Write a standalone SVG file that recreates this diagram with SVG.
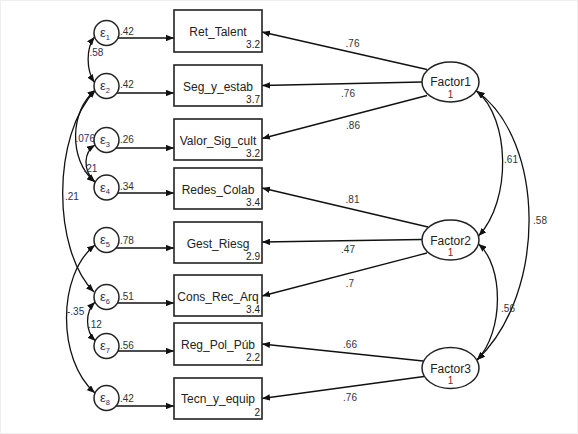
<svg xmlns="http://www.w3.org/2000/svg" width="578" height="434" viewBox="0 0 578 434">
<defs>
<marker id="ah" viewBox="0 0 10 8" refX="10" refY="4" markerWidth="8" markerHeight="6.4" markerUnits="userSpaceOnUse" orient="auto-start-reverse"><path d="M0,0 L10,4 L0,8 z" fill="#111"/></marker>
<style>
.box{fill:#fff;stroke:#222;stroke-width:1.6}
.err{fill:#fff;stroke:#222;stroke-width:1.5}
.lat{fill:#fff;stroke:#222;stroke-width:1.5}
.name{font-family:"Liberation Sans",Arial,sans-serif;font-size:12px;fill:#222;text-anchor:middle}
.mean{font-family:"Liberation Sans",Arial,sans-serif;font-size:10px;fill:#222;text-anchor:end}
.eps{font-family:"Liberation Sans","DejaVu Sans",sans-serif;font-size:13px;fill:#2d2d5a}
.sub{font-size:7.5px}
.var{font-family:"Liberation Sans",Arial,sans-serif;font-size:10px;fill:#8b1a1a;text-anchor:middle}
.lbl{font-family:"Liberation Sans",Arial,sans-serif;font-size:10px;fill:#333}
.mid{text-anchor:middle}
.cov{font-family:"Liberation Sans",Arial,sans-serif;font-size:10px;fill:#2d2d5a}
.ln{fill:none;stroke:#111;stroke-width:1.3}
.one{marker-end:url(#ah)}
.two{marker-start:url(#ah);marker-end:url(#ah)}
</style>
</defs>
<rect x="0.5" y="0.5" width="577" height="433" fill="#fff" stroke="#efefef"/>

<g id="connectors">
<line class="ln one" x1="118" y1="38" x2="174" y2="38"/>
<line class="ln one" x1="117" y1="93" x2="174" y2="93"/>
<line class="ln one" x1="116" y1="148" x2="174" y2="148"/>
<line class="ln one" x1="117.7" y1="193" x2="174" y2="193"/>
<line class="ln one" x1="116" y1="248" x2="174" y2="248"/>
<line class="ln one" x1="117.5" y1="303" x2="174" y2="303"/>
<line class="ln one" x1="118" y1="351" x2="174" y2="351"/>
<line class="ln one" x1="116" y1="406" x2="174" y2="406"/>

<line class="ln one" x1="427" y1="69.5" x2="262" y2="32"/>
<line class="ln one" x1="422" y1="82" x2="262" y2="85.5"/>
<line class="ln one" x1="427" y1="95.5" x2="262" y2="138.5"/>
<line class="ln one" x1="428" y1="227" x2="262" y2="188"/>
<line class="ln one" x1="422" y1="239.5" x2="262" y2="242"/>
<line class="ln one" x1="427" y1="253" x2="262" y2="296"/>
<line class="ln one" x1="423" y1="361" x2="262" y2="344"/>
<line class="ln one" x1="424" y1="376.5" x2="262" y2="398.5"/>

<path class="ln two" d="M476.5,91 C510,118 512,200 478.5,236"/>
<path class="ln two" d="M476.5,91 C545,140 548,292 477,360"/>
<path class="ln two" d="M478.5,244 C504,266 504,332 477,360"/>

<path class="ln two" d="M94.5,37 C86,48 86,70 94.5,82.5"/>
<path class="ln two" d="M95.5,90 C70,110 68,160 95,182"/>
<path class="ln two" d="M95,145 C84,152 82,170 95,182"/>
<path class="ln two" d="M95.5,90 C52,135 52,250 94,292"/>
<path class="ln two" d="M95,245 C57,275 57,360 95,393"/>
<path class="ln two" d="M95,302 C85,312 85,331 95.5,341"/>

<text class="lbl" x="120" y="35">.42</text>
<text class="lbl" x="120" y="88">.42</text>
<text class="lbl" x="120" y="143">.26</text>
<text class="lbl" x="120" y="190">.34</text>
<text class="lbl" x="120" y="244">.78</text>
<text class="lbl" x="120" y="300">.51</text>
<text class="lbl" x="120" y="349">.56</text>
<text class="lbl" x="120" y="402">.42</text>

<text class="lbl mid" x="352.5" y="47">.76</text>
<text class="lbl mid" x="348" y="96.5">.76</text>
<text class="lbl mid" x="353" y="129">.86</text>
<text class="lbl mid" x="352.5" y="203">.81</text>
<text class="lbl mid" x="348" y="253">.47</text>
<text class="lbl mid" x="350" y="286.5">.7</text>
<text class="lbl mid" x="350" y="348">.66</text>
<text class="lbl mid" x="350" y="400.5">.76</text>

<text class="lbl mid" x="511" y="163">.61</text>
<text class="lbl mid" x="540" y="224">.58</text>
<text class="lbl mid" x="508" y="312">.56</text>

<text class="cov" x="89.5" y="56">.58</text>
<text class="cov" x="75.5" y="142">.076</text>
<text class="cov" x="83.5" y="172">.21</text>
<text class="cov" x="65" y="200">.21</text>
<text class="cov" x="67" y="315">-.35</text>
<text class="cov" x="88" y="328">.12</text>
</g>

<g id="e1"><circle class="err" cx="106.5" cy="33" r="12.5"/><text class="eps" x="100" y="37">ε<tspan class="sub" dy="2.5">1</tspan></text></g>
<g id="e2"><circle class="err" cx="106.5" cy="86" r="12.5"/><text class="eps" x="100" y="90">ε<tspan class="sub" dy="2.5">2</tspan></text></g>
<g id="e3"><circle class="err" cx="106.5" cy="140" r="12.5"/><text class="eps" x="100" y="144">ε<tspan class="sub" dy="2.5">3</tspan></text></g>
<g id="e4"><circle class="err" cx="106.5" cy="187.5" r="12.5"/><text class="eps" x="100" y="191.5">ε<tspan class="sub" dy="2.5">4</tspan></text></g>
<g id="e5"><circle class="err" cx="106.5" cy="240" r="12.5"/><text class="eps" x="100" y="244">ε<tspan class="sub" dy="2.5">5</tspan></text></g>
<g id="e6"><circle class="err" cx="106.5" cy="297" r="12.5"/><text class="eps" x="100" y="301">ε<tspan class="sub" dy="2.5">6</tspan></text></g>
<g id="e7"><circle class="err" cx="106.5" cy="346" r="12.5"/><text class="eps" x="100" y="350">ε<tspan class="sub" dy="2.5">7</tspan></text></g>
<g id="e8"><circle class="err" cx="106.5" cy="398" r="12.5"/><text class="eps" x="100" y="402">ε<tspan class="sub" dy="2.5">8</tspan></text></g>

<g id="Ret_Talent"><rect class="box" x="174" y="10" width="88" height="42"/><text class="name" x="218" y="35.5">Ret_Talent</text><text class="mean" x="260" y="48">3.2</text></g>
<g id="Seg_y_estab"><rect class="box" x="174" y="65" width="88" height="41"/><text class="name" x="218" y="90.5">Seg_y_estab</text><text class="mean" x="260" y="102.5">3.7</text></g>
<g id="Valor_Sig_cult"><rect class="box" x="174" y="119" width="88" height="41"/><text class="name" x="218" y="144.5">Valor_Sig_cult</text><text class="mean" x="260" y="156.5">3.2</text></g>
<g id="Redes_Colab"><rect class="box" x="174" y="168" width="88" height="41"/><text class="name" x="218" y="193.5">Redes_Colab</text><text class="mean" x="260" y="205.5">3.4</text></g>
<g id="Gest_Riesg"><rect class="box" x="174" y="222" width="88" height="41"/><text class="name" x="218" y="247.5">Gest_Riesg</text><text class="mean" x="260" y="259.5">2.9</text></g>
<g id="Cons_Rec_Arq"><rect class="box" x="174" y="275" width="88" height="41"/><text class="name" x="218" y="300.5">Cons_Rec_Arq</text><text class="mean" x="260" y="312.5">3.4</text></g>
<g id="Reg_Pol_Pub"><rect class="box" x="174" y="323" width="88" height="42"/><text class="name" x="218" y="348.5">Reg_Pol_Púb</text><text class="mean" x="260" y="361">2.2</text></g>
<g id="Tecn_y_equip"><rect class="box" x="174" y="378" width="88" height="41"/><text class="name" x="218" y="402.5">Tecn_y_equip</text><text class="mean" x="260" y="416">2</text></g>

<g id="Factor1"><ellipse class="lat" cx="450.5" cy="82" rx="28.5" ry="20"/><text class="name" x="450.5" y="86">Factor1</text><text class="var" x="450.5" y="98">1</text></g>
<g id="Factor2"><ellipse class="lat" cx="450.5" cy="240" rx="28.5" ry="20"/><text class="name" x="450.5" y="244.5">Factor2</text><text class="var" x="450.5" y="256">1</text></g>
<g id="Factor3"><ellipse class="lat" cx="450.5" cy="368" rx="28.5" ry="20.5"/><text class="name" x="450.5" y="372.5">Factor3</text><text class="var" x="450.5" y="384">1</text></g>
</svg>
